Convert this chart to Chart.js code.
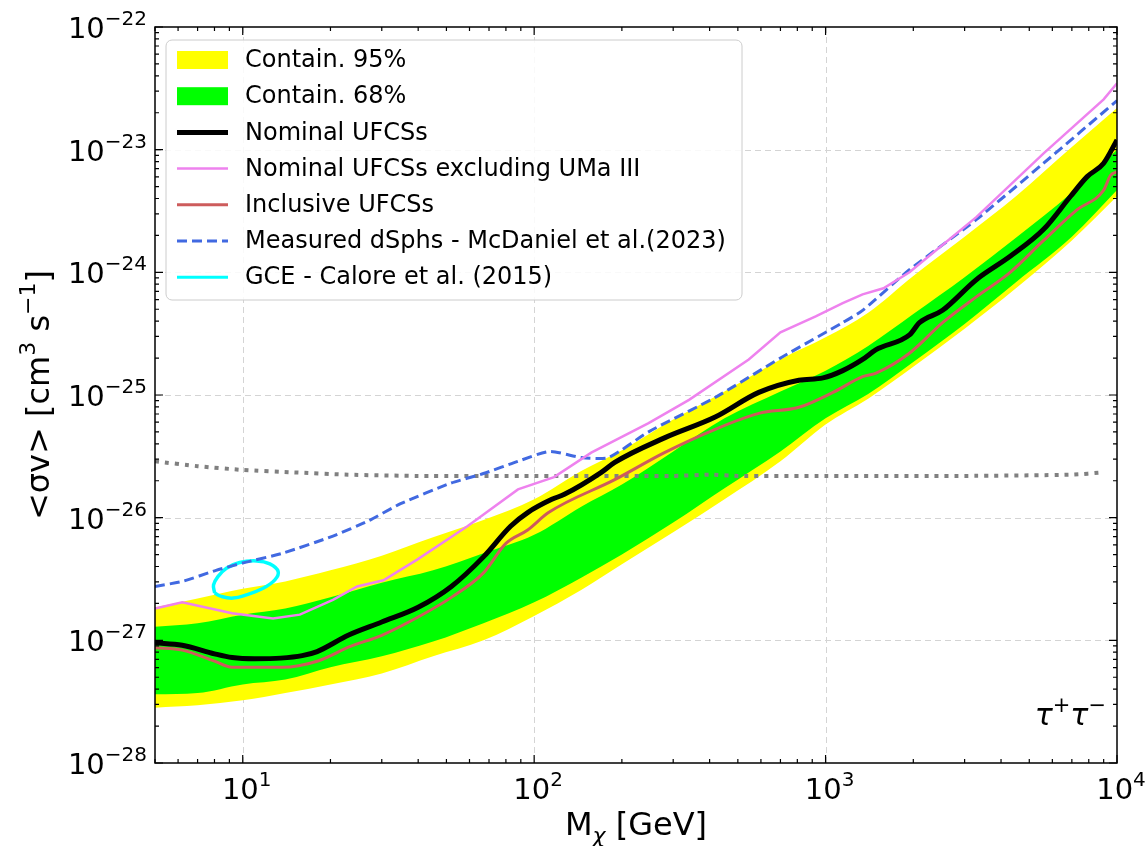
<!DOCTYPE html>
<html>
<head>
<meta charset="utf-8">
<script src="https://cdn.jsdelivr.net/npm/chart.js@4.4.1/dist/chart.umd.min.js"></script>
<style>
  html, body { margin: 0; padding: 0; background: #fff; }
</style>
</head>
<body>
<canvas id="limits" width="1148" height="846"></canvas>
<script>
// containment bands (common mass grid, GeV)
const bandMass = [5, 7, 10, 14, 20, 30, 45, 67, 100, 145, 200, 300, 450, 700, 1000, 1400, 2000, 3000, 4500, 7000, 10000];
const yellowUpper = [1.86e-27, 2.19e-27, 2.63e-27, 3.02e-27, 3.72e-27, 4.90e-27, 6.92e-27, 9.55e-27, 1.41e-26, 2.40e-26, 3.55e-26, 6.31e-26, 1.07e-25, 1.95e-25, 2.95e-25, 4.68e-25, 9.33e-25, 1.95e-24, 4.17e-24, 1.05e-23, 2.19e-23];
const yellowLower = [2.82e-28, 2.95e-28, 3.24e-28, 3.72e-28, 4.37e-28, 5.37e-28, 7.41e-28, 1.00e-27, 1.58e-27, 2.57e-27, 4.17e-27, 7.59e-27, 1.41e-26, 2.88e-26, 5.75e-26, 9.33e-26, 1.70e-25, 3.47e-25, 7.41e-25, 1.82e-24, 4.17e-24];
const greenUpper = [1.29e-27, 1.38e-27, 1.62e-27, 1.82e-27, 2.24e-27, 2.95e-27, 3.72e-27, 5.13e-27, 7.24e-27, 1.23e-26, 1.86e-26, 3.47e-26, 6.46e-26, 1.07e-25, 1.58e-25, 2.51e-25, 4.57e-25, 9.12e-25, 1.91e-24, 4.47e-24, 1.00e-23];
const greenLower = [3.63e-28, 3.72e-28, 4.37e-28, 4.79e-28, 6.03e-28, 7.41e-28, 9.77e-28, 1.38e-27, 2.04e-27, 3.24e-27, 5.01e-27, 9.12e-27, 1.74e-26, 3.47e-26, 6.46e-26, 1.02e-25, 1.86e-25, 3.80e-25, 8.32e-25, 1.95e-24, 4.68e-24];

// nominal UFCSs
const nominalMass = [5, 6.2, 8, 9.2, 11, 13.5, 16, 18, 23, 30, 40, 52, 67, 83, 95, 115, 127, 170, 189, 280, 418, 590, 810, 980, 1145, 1340, 1490, 1940, 2100, 2520, 3290, 4300, 5600, 6930, 7900, 9000, 10000];
const nominal = [9.55e-28, 9.12e-28, 7.76e-28, 7.24e-28, 7.08e-28, 7.16e-28, 7.50e-28, 8.10e-28, 1.10e-27, 1.41e-27, 1.86e-27, 2.75e-27, 4.79e-27, 8.51e-27, 1.10e-26, 1.41e-26, 1.55e-26, 2.34e-26, 2.82e-26, 4.47e-26, 6.61e-26, 1.05e-25, 1.32e-25, 1.38e-25, 1.58e-25, 1.95e-25, 2.34e-25, 3.09e-25, 3.89e-25, 4.90e-25, 8.71e-25, 1.35e-24, 2.24e-24, 4.17e-24, 6.03e-24, 7.76e-24, 1.20e-23];

// nominal without UMa III
const noUmaMass = [5, 6.2, 9.2, 12.7, 15.7, 20.4, 24.7, 30.4, 39.8, 59, 65.6, 88, 117, 157, 247, 340, 545, 700, 925, 1145, 1340, 1580, 1940, 3290, 5600, 9000, 10000];
const noUma = [1.82e-27, 2.04e-27, 1.66e-27, 1.51e-27, 1.62e-27, 2.14e-27, 2.75e-27, 3.09e-27, 4.57e-27, 8.50e-27, 1.02e-26, 1.70e-26, 2.14e-26, 3.39e-26, 5.89e-26, 9.12e-26, 1.95e-25, 3.24e-25, 4.37e-25, 5.62e-25, 6.61e-25, 7.41e-25, 1.00e-24, 2.82e-24, 9.33e-24, 2.57e-23, 3.47e-23];

// inclusive UFCSs
const inclusiveMass = [5, 6.2, 8, 9.2, 13.7, 18, 23.4, 30, 40, 52, 67, 80, 95, 112, 189, 280, 418, 590, 810, 1060, 1340, 1490, 1940, 2520, 3290, 4300, 5600, 7300, 9000, 9500, 10000];
const inclusive = [8.71e-28, 8.32e-28, 6.76e-28, 6.03e-28, 6.03e-28, 6.76e-28, 8.91e-28, 1.10e-27, 1.55e-27, 2.24e-27, 3.55e-27, 6.17e-27, 7.94e-27, 1.10e-26, 2.04e-26, 3.39e-26, 5.25e-26, 7.08e-26, 7.94e-26, 1.05e-25, 1.41e-25, 1.51e-25, 2.19e-25, 3.89e-25, 6.31e-25, 1.00e-24, 1.82e-24, 3.24e-24, 4.68e-24, 6.17e-24, 6.61e-24];

// measured dSphs (McDaniel et al. 2023)
const dsphMass = [5, 6.2, 8.1, 10, 13.7, 20.4, 26.8, 34.8, 51.7, 67, 88, 113, 145, 180, 247, 418, 710, 1145, 1340, 1940, 3290, 5600, 10000];
const dsph = [2.75e-27, 3.02e-27, 3.72e-27, 4.27e-27, 5.13e-27, 7.08e-27, 9.33e-27, 1.30e-26, 1.91e-26, 2.29e-26, 2.88e-26, 3.47e-26, 3.09e-26, 3.09e-26, 5.01e-26, 9.55e-26, 2.04e-25, 3.89e-25, 4.90e-25, 1.05e-24, 2.69e-24, 7.76e-24, 2.51e-23];

// thermal relic cross section (dotted)
const thermalMass = [5, 7, 10, 15, 23, 40, 100, 300, 400, 500, 1000, 3000, 7000, 9000];
const thermal = [2.88e-26, 2.63e-26, 2.45e-26, 2.34e-26, 2.24e-26, 2.19e-26, 2.19e-26, 2.19e-26, 2.24e-26, 2.19e-26, 2.19e-26, 2.19e-26, 2.24e-26, 2.34e-26];

// GCE contour (Calore et al. 2015)
const gceMass = [8.01, 7.94, 8.22, 8.79, 9.76, 11.15, 12.39, 13.23, 12.89, 11.75, 10.3, 9.26, 8.45, 8.01];
const gce = [2.43e-27, 2.83e-27, 3.31e-27, 3.87e-27, 4.31e-27, 4.44e-27, 4.20e-27, 3.64e-27, 3.11e-27, 2.66e-27, 2.35e-27, 2.21e-27, 2.28e-27, 2.43e-27];

const xMajor = [10, 100, 1000, 10000];
const xMajorExp = ['1', '2', '3', '4'];
const yMajor = [1e-28, 1e-27, 1e-26, 1e-25, 1e-24, 1e-23, 1e-22];
const yMajorExp = ['\u221228', '\u221227', '\u221226', '\u221225', '\u221224', '\u221223', '\u221222'];

const FONT = '"DejaVu Sans"';

function pts(xs, ys) {
  return xs.map((x, i) => ({ x: x, y: ys[i] }));
}

function drawRich(ctx, parts, x, y, size, align) {
  const small = Math.round(size * 0.7);
  const fontFor = p => (p.it ? 'italic ' : '') + (p.k ? small : size) + 'px ' + FONT;
  let total = 0;
  parts.forEach(p => { ctx.font = fontFor(p); p.w = ctx.measureText(p.t).width; total += p.w; });
  let cx = align === 'right' ? x - total : align === 'center' ? x - total / 2 : x;
  ctx.textAlign = 'left';
  ctx.textBaseline = 'alphabetic';
  parts.forEach(p => {
    ctx.font = fontFor(p);
    const dy = p.k === 'sup' ? -size * 0.45 : p.k === 'sub' ? size * 0.25 : 0;
    ctx.fillText(p.t, cx, y + dy);
    cx += p.w;
  });
}

const legendItems = [
  { label: 'Contain. 95%', kind: 'patch', color: '#ffff00' },
  { label: 'Contain. 68%', kind: 'patch', color: '#00ff00' },
  { label: 'Nominal UFCSs', kind: 'line', color: '#000000', width: 5 },
  { label: 'Nominal UFCSs excluding UMa III', kind: 'line', color: '#ee82ee', width: 2.5 },
  { label: 'Inclusive UFCSs', kind: 'line', color: '#cd5c5c', width: 3 },
  { label: 'Measured dSphs - McDaniel et al.(2023)', kind: 'line', color: '#4169e1', width: 3, dash: [10, 5] },
  { label: 'GCE - Calore et al. (2015)', kind: 'line', color: '#00ffff', width: 3 }
];

const frameAndText = {
  id: 'frameAndText',
  beforeDatasetsDraw(chart) {
    const { ctx, chartArea: a, scales: { x, y } } = chart;
    ctx.save();
    ctx.strokeStyle = '#d4d4d4';
    ctx.lineWidth = 1;
    ctx.setLineDash([6, 4]);
    [10, 100, 1000].forEach(v => {
      const px = Math.round(x.getPixelForValue(v)) + 0.5;
      ctx.beginPath(); ctx.moveTo(px, a.top); ctx.lineTo(px, a.bottom); ctx.stroke();
    });
    yMajor.slice(1, -1).forEach(v => {
      const py = Math.round(y.getPixelForValue(v)) + 0.5;
      ctx.beginPath(); ctx.moveTo(a.left, py); ctx.lineTo(a.right, py); ctx.stroke();
    });
    ctx.restore();
  },
  afterDatasetsDraw(chart) {
    const { ctx, chartArea: a, scales: { x, y } } = chart;
    ctx.save();

    // ticks on all four sides, pointing inward
    ctx.strokeStyle = '#000';
    ctx.lineWidth = 1.2;
    const xTick = (v, len) => {
      const px = x.getPixelForValue(v);
      ctx.beginPath();
      ctx.moveTo(px, a.bottom); ctx.lineTo(px, a.bottom - len);
      ctx.moveTo(px, a.top); ctx.lineTo(px, a.top + len);
      ctx.stroke();
    };
    const yTick = (v, len) => {
      const py = y.getPixelForValue(v);
      ctx.beginPath();
      ctx.moveTo(a.left, py); ctx.lineTo(a.left + len, py);
      ctx.moveTo(a.right, py); ctx.lineTo(a.right - len, py);
      ctx.stroke();
    };
    [1, 10, 100, 1000].forEach(d => {
      for (let m = 2; m <= 9; m++) {
        const v = d * m;
        if (v >= 5 && v < 10000) xTick(v, 4);
      }
    });
    xMajor.forEach(v => xTick(v, 8));
    yMajor.forEach((v, i) => {
      yTick(v, 8);
      if (i < yMajor.length - 1) for (let m = 2; m <= 9; m++) yTick(v * m, 4);
    });

    // frame
    ctx.lineWidth = 1.5;
    ctx.strokeRect(a.left, a.top, a.right - a.left, a.bottom - a.top);

    // tick labels
    ctx.fillStyle = '#000';
    xMajor.forEach((v, i) => {
      drawRich(ctx, [{ t: '10' }, { t: xMajorExp[i], k: 'sup' }], x.getPixelForValue(v) + 4, 799, 29, 'center');
    });
    yMajor.forEach((v, i) => {
      drawRich(ctx, [{ t: '10' }, { t: yMajorExp[i], k: 'sup' }], 147, y.getPixelForValue(v) + 11, 29, 'right');
    });

    // axis titles
    drawRich(ctx, [{ t: 'M' }, { t: '\u03c7', k: 'sub', it: true }, { t: ' [GeV]' }], (a.left + a.right) / 2, 835, 32, 'center');
    ctx.save();
    ctx.translate(38, (a.top + a.bottom) / 2);
    ctx.rotate(-Math.PI / 2);
    drawRich(ctx, [{ t: '<\u03c3v> [cm' }, { t: '3', k: 'sup' }, { t: ' s' }, { t: '\u22121', k: 'sup' }, { t: ']' }], 0, 11, 32, 'center');
    ctx.restore();

    // channel label
    drawRich(ctx, [{ t: '\u03c4', it: true }, { t: '+', k: 'sup' }, { t: '\u03c4', it: true }, { t: '\u2212', k: 'sup' }], 1106, 725, 30, 'right');

    // legend
    const lx = 166, ly = 40, lw = 576, lh = 260;
    ctx.beginPath();
    ctx.roundRect(lx, ly, lw, lh, 6);
    ctx.fillStyle = 'rgba(255,255,255,0.85)';
    ctx.fill();
    ctx.strokeStyle = '#cccccc';
    ctx.lineWidth = 1;
    ctx.stroke();
    legendItems.forEach((it, i) => {
      const cy = 60 + i * 36.2;
      if (it.kind === 'patch') {
        ctx.fillStyle = it.color;
        ctx.fillRect(177, cy - 9, 51, 18);
      } else {
        ctx.strokeStyle = it.color;
        ctx.lineWidth = it.width;
        ctx.setLineDash(it.dash || []);
        ctx.beginPath(); ctx.moveTo(177, cy); ctx.lineTo(228, cy); ctx.stroke();
        ctx.setLineDash([]);
      }
      ctx.fillStyle = '#000';
      ctx.font = '24px ' + FONT;
      ctx.textAlign = 'left';
      ctx.textBaseline = 'middle';
      ctx.fillText(it.label, 245, cy + 1);
    });
    ctx.restore();
  }
};

const lineSet = (label, xs, ys, color, width, extra) => Object.assign({
  label: label,
  data: pts(xs, ys),
  borderColor: color,
  borderWidth: width,
  pointRadius: 0,
  fill: false,
  tension: 0.3,
  cubicInterpolationMode: 'monotone'
}, extra || {});

new Chart(document.getElementById('limits').getContext('2d'), {
  type: 'line',
  data: {
    datasets: [
      lineSet('Nominal UFCSs', nominalMass, nominal, '#000000', 5),
      lineSet('Nominal UFCSs excluding UMa III', noUmaMass, noUma, '#ee82ee', 2.5, { tension: 0, cubicInterpolationMode: 'default' }),
      lineSet('Inclusive UFCSs', inclusiveMass, inclusive, '#cd5c5c', 3),
      lineSet('Measured dSphs - McDaniel et al.(2023)', dsphMass, dsph, '#4169e1', 3, { borderDash: [10, 5], tension: 0.2, cubicInterpolationMode: 'default' }),
      lineSet('GCE - Calore et al. (2015)', gceMass, gce, '#00ffff', 3.5, { tension: 0.4, cubicInterpolationMode: 'default' }),
      lineSet('thermal', thermalMass, thermal, '#808080', 4, { borderDash: [4, 6], tension: 0.2, cubicInterpolationMode: 'default' }),
      lineSet('Contain. 68% upper', bandMass, greenUpper, 'rgba(0,0,0,0)', 0, { fill: '+1', backgroundColor: '#00ff00' }),
      lineSet('Contain. 68% lower', bandMass, greenLower, 'rgba(0,0,0,0)', 0),
      lineSet('Contain. 95% upper', bandMass, yellowUpper, 'rgba(0,0,0,0)', 0, { fill: '+1', backgroundColor: '#ffff00' }),
      lineSet('Contain. 95% lower', bandMass, yellowLower, 'rgba(0,0,0,0)', 0)
    ]
  },
  options: {
    responsive: false,
    devicePixelRatio: 1,
    animation: false,
    events: [],
    layout: { padding: { left: 155, right: 31, top: 27, bottom: 83 } },
    plugins: {
      legend: { display: false },
      tooltip: { enabled: false }
    },
    scales: {
      x: { type: 'logarithmic', min: 5, max: 10000, display: false },
      y: { type: 'logarithmic', min: 1e-28, max: 1e-22, display: false }
    }
  },
  plugins: [frameAndText]
});
</script>
</body>
</html>
